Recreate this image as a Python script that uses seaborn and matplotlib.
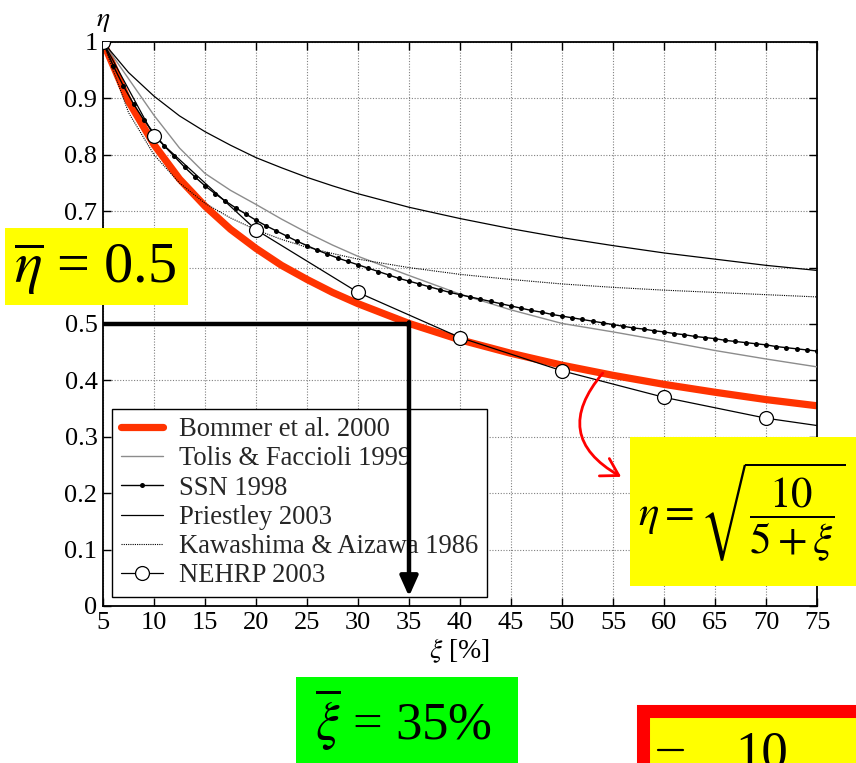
import numpy as np
import pandas as pd
import matplotlib
matplotlib.use("Agg")
import matplotlib.pyplot as plt
from matplotlib.patches import Rectangle
from matplotlib.lines import Line2D
import seaborn as sns

# ---- damping reduction factor curves: eta vs damping ratio xi [%] ----
xi_grid = [5, 7.5, 10, 12.5, 15, 17.5, 20, 22.5, 25, 27.5, 30, 35, 40, 45, 50, 55, 60, 65, 70, 75]
bommer = [1.000, 0.895, 0.818, 0.757, 0.709, 0.668, 0.634, 0.604, 0.579, 0.556,
          0.536, 0.501, 0.472, 0.448, 0.427, 0.409, 0.393, 0.379, 0.366, 0.355]
tolis = [1.000, 0.935, 0.870, 0.812, 0.767, 0.737, 0.712, 0.686, 0.662, 0.640,
         0.620, 0.586, 0.553, 0.525, 0.501, 0.486, 0.470, 0.453, 0.438, 0.424]
priestley = [1.000, 0.946, 0.904, 0.869, 0.841, 0.817, 0.795, 0.777, 0.760, 0.745,
             0.731, 0.707, 0.687, 0.669, 0.653, 0.639, 0.626, 0.615, 0.604, 0.595]
kawashima = [1.000, 0.875, 0.800, 0.750, 0.714, 0.688, 0.667, 0.650, 0.636, 0.625,
             0.615, 0.600, 0.588, 0.579, 0.571, 0.565, 0.560, 0.556, 0.552, 0.548]

ssn_xi = list(range(5, 76))
ssn = [1.000, 0.958, 0.922, 0.890, 0.862, 0.838, 0.816, 0.797, 0.778, 0.761,
       0.745, 0.731, 0.718, 0.706, 0.695, 0.684, 0.674, 0.665, 0.656, 0.647,
       0.639, 0.631, 0.624, 0.617, 0.611, 0.605, 0.599, 0.593, 0.587, 0.581,
       0.576, 0.571, 0.566, 0.561, 0.556, 0.552, 0.548, 0.544, 0.540, 0.536,
       0.532, 0.528, 0.524, 0.521, 0.517, 0.514, 0.511, 0.508, 0.505, 0.502,
       0.499, 0.496, 0.493, 0.491, 0.488, 0.486, 0.483, 0.481, 0.478, 0.476,
       0.474, 0.471, 0.469, 0.467, 0.465, 0.463, 0.460, 0.458, 0.456, 0.454,
       0.452]

nehrp_xi = [5, 10, 20, 30, 40, 50, 60, 70, 75]
nehrp = [1.000, 0.833, 0.667, 0.556, 0.476, 0.417, 0.370, 0.333, 0.320]

series_labels = ["Bommer et al. 2000", "Tolis & Faccioli 1999", "SSN 1998",
                 "Priestley 2003", "Kawashima & Aizawa 1986", "NEHRP 2003"]

# design point
eta_bar = 0.5
xi_bar = 35

x_ticks = list(range(5, 80, 5))
y_ticks = [0, 0.1, 0.2, 0.3, 0.4, 0.5, 0.6, 0.7, 0.8, 0.9, 1]
# the 0.6 label sits under the eta-bar callout
y_tick_labels = ["0", "0.1", "0.2", "0.3", "0.4", "0.5", "", "0.7", "0.8", "0.9", "1"]

sns.set_theme(style="ticks")
plt.rcParams["font.family"] = ["Liberation Serif", "DejaVu Serif"]
plt.rcParams["mathtext.fontset"] = "stix"

W, H = 856, 763
fig = plt.figure(figsize=(W / 100, H / 100), dpi=100)
fig.patch.set_facecolor("white")
ax = fig.add_axes([103 / W, 1 - 606 / H, (817 - 103) / W, (606 - 42) / H])
ax.set_facecolor("white")

sns.lineplot(x=xi_grid, y=bommer, ax=ax, color="#ff3300", lw=5.2,
             label=series_labels[0], zorder=2, solid_joinstyle="round")
sns.lineplot(x=xi_grid, y=tolis, ax=ax, color="#8c8c8c", lw=1.0,
             label=series_labels[1], zorder=3)
sns.lineplot(x=ssn_xi, y=ssn, ax=ax, color="black", lw=1.0, marker="o",
             markersize=3.6, markeredgewidth=0, label=series_labels[2], zorder=4)
sns.lineplot(x=xi_grid, y=priestley, ax=ax, color="black", lw=0.9,
             label=series_labels[3], zorder=3)
sns.lineplot(x=xi_grid, y=kawashima, ax=ax, color="black", lw=0.8,
             linestyle=(0, (1, 1)), label=series_labels[4], zorder=3)
sns.lineplot(x=nehrp_xi, y=nehrp, ax=ax, color="black", lw=0.9, marker="o",
             markersize=10, markerfacecolor="white", markeredgecolor="black",
             markeredgewidth=0.9, markevery=list(range(len(nehrp_xi) - 1)),
             label=series_labels[5], zorder=5)

ax.set_xlim(5, 75)
ax.set_ylim(0, 1)
ax.set_xticks(x_ticks)
ax.set_xticklabels([str(t) for t in x_ticks])
ax.set_yticks(y_ticks)
ax.set_yticklabels(y_tick_labels)
ax.grid(True, color="#808080", linestyle=(0, (1, 1.5)), lw=0.8)
ax.tick_params(direction="in", length=6, width=1, top=True, right=True,
               labelsize=19, pad=4, colors="black")
for sp in ax.spines.values():
    sp.set_visible(True)
    sp.set_color("black")
    sp.set_linewidth(1.3)

ax.set_xlabel(r"$\xi$ [%]", fontsize=20, labelpad=2, color="black")
ax.set_ylabel("")
ax.text(5, 1.015, r"$\eta$", fontsize=20, ha="center", va="bottom", color="black")

leg = ax.legend(loc="lower left", bbox_to_anchor=(0.0126, 0.016), frameon=True,
                fancybox=False, edgecolor="black", framealpha=1, fontsize=19.2,
                handlelength=1.6, labelspacing=0.16, borderpad=0.32,
                handletextpad=0.6, borderaxespad=0)
leg.get_frame().set_linewidth(1.0)
leg.set_zorder(6)

# design-point arrows
ax.plot([5, xi_bar], [eta_bar, eta_bar], color="black", lw=3.2,
        solid_capstyle="butt", zorder=7)
ax.annotate("", xy=(xi_bar, 0.017), xytext=(xi_bar, eta_bar + 0.003),
            arrowprops=dict(arrowstyle="-|>,head_length=1.0,head_width=0.45",
                            color="black", lw=3.2, shrinkA=0, shrinkB=0),
            zorder=7)

# pointer from the Bommer curve to its formula
ax.annotate("", xy=(55.8, 0.229), xytext=(54.0, 0.413),
            arrowprops=dict(arrowstyle="->,head_length=1.0,head_width=0.6",
                            color="red", lw=2.0, shrinkA=0, shrinkB=0,
                            connectionstyle="arc3,rad=0.6"),
            zorder=7)


def fig_box(x0, y0, x1, y1, face, edge="none", lw=0):
    fig.add_artist(Rectangle((x0 / W, 1 - y1 / H), (x1 - x0) / W, (y1 - y0) / H,
                             transform=fig.transFigure, facecolor=face,
                             edgecolor=edge, linewidth=lw, zorder=10))


# eta-bar callout
fig_box(5, 228, 188, 305, "#ffff00")
fig.text(95 / W, 1 - 283 / H, r"$\overline{\eta}$ = " + f"{eta_bar}",
         fontsize=42, ha="center", va="baseline", color="black", zorder=11)

# formula callout
fig_box(630, 437, 856, 586, "#ffff00")
fig.text(742 / W, 1 - 512 / H, r"$\eta = \sqrt{\dfrac{10}{5+\xi}}$",
         fontsize=31, ha="center", va="center", color="black", zorder=11)

# xi-bar callout
fig_box(296, 677, 518, 763, "#00ff00")
fig.text(403 / W, 1 - 740 / H, r"$\overline{\xi}$ = " + f"{xi_bar}%",
         fontsize=38, ha="center", va="baseline", color="black", zorder=11)

# red framed callout at the lower right
fig_box(643, 711, 870, 780, "#ffff00", edge="#ff0000", lw=9.4)
fig.add_artist(Line2D([658 / W, 683 / W], [1 - 750 / H, 1 - 750 / H],
                      transform=fig.transFigure, color="black", lw=1.6, zorder=11))
fig.text(762 / W, 1 - 768 / H, "10", fontsize=38, ha="center", va="baseline",
         color="black", zorder=11)

fig.savefig("out.png", dpi=100)
